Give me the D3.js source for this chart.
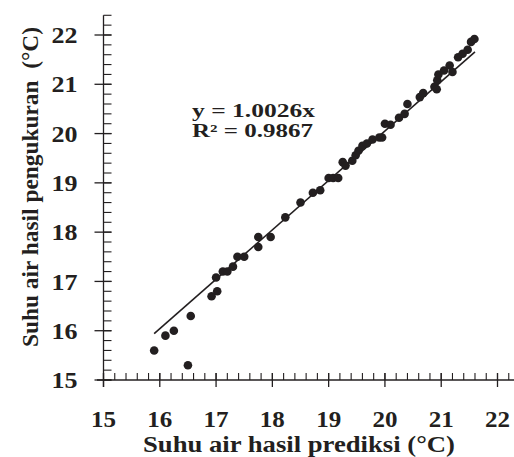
<!DOCTYPE html>
<html>
<head>
<meta charset="utf-8">
<script src="https://cdn.jsdelivr.net/npm/d3@7"></script>
<style>
  body { margin: 0; background: #fff; }
</style>
</head>
<body>
<div id="chart"></div>
<script>
const predicted = [15.9, 16.1, 16.25, 16.5, 16.55, 16.92, 17.02, 17.0, 17.12, 17.2,
  17.3, 17.38, 17.5, 17.75, 17.75, 17.97, 18.23, 18.5, 18.72, 18.85,
  19.0, 19.08, 19.17, 19.25, 19.3, 19.42, 19.48, 19.53, 19.6, 19.68,
  19.78, 19.9, 19.95, 20.0, 20.1, 20.25, 20.35, 20.4, 20.62, 20.68,
  20.88, 20.92, 20.93, 20.95, 21.05, 21.15, 21.2, 21.3, 21.38, 21.47,
  21.53, 21.59];
const measured = [15.6, 15.9, 16.0, 15.3, 16.3, 16.7, 16.8, 17.08, 17.2, 17.2,
  17.3, 17.5, 17.5, 17.7, 17.9, 17.9, 18.3, 18.6, 18.8, 18.85,
  19.1, 19.1, 19.1, 19.42, 19.35, 19.45, 19.56, 19.65, 19.75, 19.8,
  19.88, 19.92, 19.92, 20.2, 20.18, 20.32, 20.4, 20.6, 20.74, 20.82,
  20.95, 20.9, 21.08, 21.2, 21.28, 21.38, 21.25, 21.55, 21.62, 21.7,
  21.86, 21.92];
const xTicks = [15, 16, 17, 18, 19, 20, 21, 22];
const yTicks = [15, 16, 17, 18, 19, 20, 21, 22];
const slope = 1.0026;
const fitFrom = 15.9, fitTo = 21.6;
const equation = ["y = 1.0026x", "R² = 0.9867"];
const xTitle = "Suhu air hasil prediksi (°C)";
const yTitle = "Suhu air hasil pengukuran  (°C)";

const W = 514, H = 457;
const ink = "#231f20";
const font = "'Liberation Serif', 'Times New Roman', serif";

let svg = d3.select("#chart").append("svg")
    .attr("width", W)
    .attr("height", H);

svg.append("rect").attr("width", W).attr("height", H).attr("fill", "#fff");

let x = d3.scaleLinear().domain([15, 22]).range([103.5, 497.5]);
let y = d3.scaleLinear().domain([15, 22]).range([380, 35]);

// minor ticks every 0.2
let xMinor = d3.range(15, 22.31, 0.2).map(v => +v.toFixed(1));
let yMinor = d3.range(15, 22.41, 0.2).map(v => +v.toFixed(1));

// x axis: minors inside (above), majors crossing
let gx = svg.append("g").attr("transform", `translate(0,${y(15)})`);
gx.append("line")
    .attr("x1", 97).attr("x2", W)
    .attr("stroke", ink).attr("stroke-width", 1.3);
gx.selectAll(".minor").data(xMinor).enter().append("line")
    .attr("x1", d => x(d)).attr("x2", d => x(d))
    .attr("y1", -7).attr("y2", 0)
    .attr("stroke", ink).attr("stroke-width", 1.1);
gx.selectAll(".major").data(xTicks).enter().append("line")
    .attr("x1", d => x(d)).attr("x2", d => x(d))
    .attr("y1", -7).attr("y2", 7)
    .attr("stroke", ink).attr("stroke-width", 1.3);
gx.selectAll(".lab").data(xTicks).enter().append("text")
    .attr("x", d => x(d)).attr("y", 47)
    .attr("text-anchor", "middle")
    .attr("font-family", font).attr("font-weight", "bold")
    .attr("font-size", 24).attr("fill", ink)
    .attr("textLength", 25).attr("lengthAdjust", "spacingAndGlyphs")
    .text(d => d);

// y axis: minors inside (right), majors crossing
let gy = svg.append("g").attr("transform", `translate(${x(15)},0)`);
gy.append("line")
    .attr("y1", y(22.4)).attr("y2", y(15) + 7)
    .attr("stroke", ink).attr("stroke-width", 1.3);
gy.selectAll(".minor").data(yMinor).enter().append("line")
    .attr("y1", d => y(d)).attr("y2", d => y(d))
    .attr("x1", 0).attr("x2", 8)
    .attr("stroke", ink).attr("stroke-width", 1.1);
gy.selectAll(".major").data(yTicks).enter().append("line")
    .attr("y1", d => y(d)).attr("y2", d => y(d))
    .attr("x1", -9).attr("x2", 8)
    .attr("stroke", ink).attr("stroke-width", 1.3);
gy.selectAll(".lab").data(yTicks).enter().append("text")
    .attr("x", -26).attr("y", d => y(d))
    .attr("dy", "0.34em")
    .attr("text-anchor", "end")
    .attr("font-family", font).attr("font-weight", "bold")
    .attr("font-size", 24).attr("fill", ink)
    .attr("textLength", 26).attr("lengthAdjust", "spacingAndGlyphs")
    .text(d => d);

// axis titles
svg.append("text")
    .attr("x", 299).attr("y", 452)
    .attr("text-anchor", "middle")
    .attr("font-family", font).attr("font-weight", "bold")
    .attr("font-size", 24).attr("fill", ink)
    .attr("textLength", 312).attr("lengthAdjust", "spacingAndGlyphs")
    .text(xTitle);

svg.append("text")
    .attr("transform", "rotate(-90)")
    .attr("x", -187).attr("y", 38)
    .attr("text-anchor", "middle")
    .attr("font-family", font).attr("font-weight", "bold")
    .attr("font-size", 24).attr("fill", ink)
    .attr("textLength", 320).attr("lengthAdjust", "spacingAndGlyphs")
    .style("white-space", "pre")
    .text(yTitle);

// regression line
svg.append("line")
    .attr("x1", x(fitFrom)).attr("y1", y(slope * fitFrom))
    .attr("x2", x(fitTo)).attr("y2", y(slope * fitTo))
    .attr("stroke", ink).attr("stroke-width", 1.6);

// points
let pts = predicted.map((p, i) => ({x: p, y: measured[i]}));
svg.append("g").selectAll("circle").data(pts).enter().append("circle")
    .attr("cx", d => x(d.x)).attr("cy", d => y(d.y))
    .attr("r", 4.3)
    .attr("fill", ink);

// equation
svg.append("g").selectAll("text").data(equation).enter().append("text")
    .attr("x", 192).attr("y", (d, i) => 117 + i * 20)
    .attr("font-family", font).attr("font-weight", "bold")
    .attr("font-size", 18).attr("fill", ink)
    .attr("textLength", (d, i) => i ? 121 : 123)
    .attr("lengthAdjust", "spacingAndGlyphs")
    .text(d => d);
</script>
</body>
</html>
